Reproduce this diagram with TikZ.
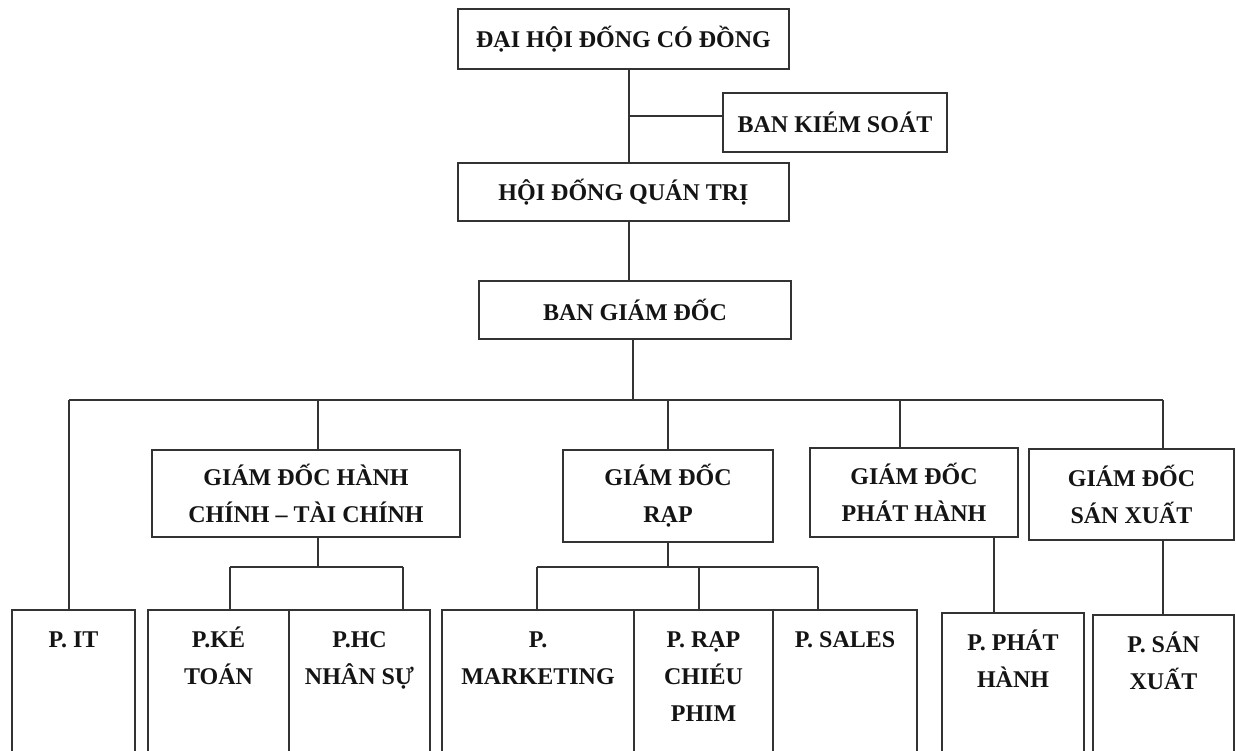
\documentclass[tikz,border=0pt]{standalone}
\usepackage{fontspec}
\setmainfont{Liberation Serif}
\newcommand\firststrut{\rule{0pt}{26pt}}
\begin{document}
\begin{tikzpicture}[x=1pt,y=-1pt,
  box/.style={draw=black!80,line width=1.8pt,rectangle,inner sep=0pt,fill=none},
  ttl/.style={box,align=center,font=\bfseries\fontsize{24}{37}\selectfont,text=black!92},
  lbl/.style={inner sep=0pt,align=center,font=\bfseries\fontsize{24}{37}\selectfont,text=black!92},
  conn/.style={draw=black!80,line width=1.8pt}]
\useasboundingbox (0,0) rectangle (1236,751);
\clip (0,0) rectangle (1236,751);
% top chain
\node[ttl,minimum width=331pt,minimum height=60pt] (dh) at (623.5,39) {ĐẠI HỘI ĐỐNG CÓ ĐỒNG};
\node[ttl,minimum width=224pt,minimum height=59pt] (bks) at (835,122.5) {BAN KIÉM SOÁT};
\node[ttl,minimum width=331pt,minimum height=58pt] (hd) at (623.5,192) {HỘI ĐỐNG QUÁN TRỊ};
\node[ttl,minimum width=312pt,minimum height=58pt] (bgd) at (635,310) {BAN GIÁM ĐỐC};
\coordinate (sp1) at (629,0);
\coordinate (sp2) at (633,0);
\draw[conn] (dh.south -| sp1) -- (hd.north -| sp1);
\draw[conn] (bks.west |- 0,116) -- (629,116);
\draw[conn] (hd.south -| sp1) -- (bgd.north -| sp1);
% directors
\node[ttl,minimum width=308pt,minimum height=87pt] (hc) at (306,493.5) {GIÁM ĐỐC HÀNH\\CHÍNH – TÀI CHÍNH};
\node[ttl,minimum width=210pt,minimum height=92pt] (rap) at (668,496) {GIÁM ĐỐC\\RẠP};
\node[ttl,minimum width=208pt,minimum height=89pt] (ph) at (914,492.5) {GIÁM ĐỐC\\PHÁT HÀNH};
\node[ttl,minimum width=205pt,minimum height=91pt] (sx) at (1131.5,494.5) {GIÁM ĐỐC\\SÁN XUẤT};
% departments (boxes run off the bottom edge)
\node[box,minimum width=123pt,minimum height=150pt] (pit) at (73.5,685) {};
\node[box,minimum width=141pt,minimum height=150pt] (pkt) at (218.5,685) {};
\node[box,minimum width=141pt,minimum height=150pt] (phc) at (359.5,685) {};
\node[box,minimum width=192pt,minimum height=150pt] (pmk) at (538,685) {};
\node[box,minimum width=139pt,minimum height=150pt] (prc) at (703.5,685) {};
\node[box,minimum width=144pt,minimum height=150pt] (psl) at (845,685) {};
\node[box,minimum width=142pt,minimum height=147pt] (pph) at (1013,686.5) {};
\node[box,minimum width=141pt,minimum height=145pt] (psx) at (1163.5,687.5) {};
\node[lbl,anchor=north] (tit) at ([yshift=-12pt]pit.north) {\firststrut P. IT};
\node[lbl,anchor=north] (tkt) at ([yshift=-12pt]pkt.north) {\firststrut P.KÉ\\TOÁN};
\node[lbl,anchor=north] (thc) at ([yshift=-12pt]phc.north) {\firststrut P.HC\\NHÂN SỰ};
\node[lbl,anchor=north] (tmk) at ([yshift=-12pt]pmk.north) {\firststrut P.\\MARKETING};
\node[lbl,anchor=north] (trc) at ([yshift=-12pt]prc.north) {\firststrut P. RẠP\\CHIÉU\\PHIM};
\node[lbl,anchor=north] (tsl) at ([yshift=-12pt]psl.north) {\firststrut P. SALES};
\node[lbl,anchor=north] (tph) at ([yshift=-12pt]pph.north) {\firststrut P. PHÁT\\HÀNH};
\node[lbl,anchor=north] (tsx) at ([yshift=-12pt]psx.north) {\firststrut P. SÁN\\XUẤT};
% main bus
\coordinate (bus) at (0,400);
\draw[conn] (bgd.south -| sp2) -- (bus -| sp2);
\draw[conn] (69,400) -- (1163,400);
\draw[conn] (69,400) -- (pit.north -| 69,0);
\draw[conn] (318,400) -- (hc.north -| 318,0);
\draw[conn] (668,400) -- (rap.north);
\draw[conn] (900,400) -- (ph.north -| 900,0);
\draw[conn] (1163,400) -- (sx.north -| 1163,0);
% sub buses
\draw[conn] (hc.south -| 318,0) -- (318,567);
\draw[conn] (230,567) -- (403,567);
\draw[conn] (230,567) -- (pkt.north -| 230,0);
\draw[conn] (403,567) -- (phc.north -| 403,0);
\draw[conn] (rap.south) -- (668,567);
\draw[conn] (537,567) -- (818,567);
\draw[conn] (537,567) -- (pmk.north -| 537,0);
\draw[conn] (699,567) -- (prc.north -| 699,0);
\draw[conn] (818,567) -- (psl.north -| 818,0);
\draw[conn] (ph.south -| 994,0) -- (pph.north -| 994,0);
\draw[conn] (sx.south -| 1163,0) -- (psx.north -| 1163,0);
\end{tikzpicture}
\end{document}
